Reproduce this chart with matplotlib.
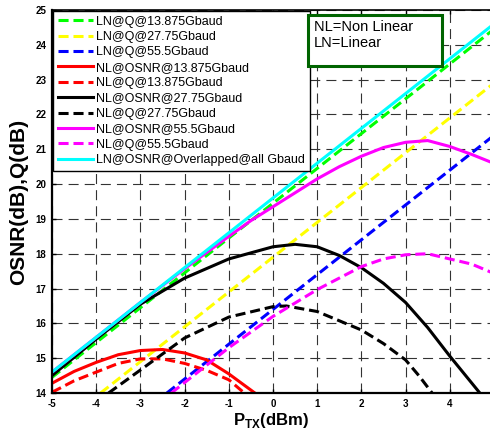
import matplotlib
matplotlib.use("Agg")
import matplotlib.pyplot as plt
from matplotlib.patches import Rectangle

plt.rcParams['font.family'] = ['Liberation Sans', 'DejaVu Sans']
plt.rcParams['mathtext.fontset'] = 'custom'
plt.rcParams['mathtext.rm'] = 'Liberation Sans'
plt.rcParams['mathtext.bf'] = 'Liberation Sans:bold'

# ---- data ----
x_lin = [-5, -4, -3, -2, -1, 0, 1, 2, 3, 4, 5]
ln_osnr_all = [14.6, 15.6, 16.6, 17.6, 18.6, 19.6, 20.6, 21.6, 22.6, 23.6, 24.6]
ln_q_13 = [14.45, 15.45, 16.45, 17.45, 18.45, 19.45, 20.45, 21.45, 22.45, 23.45, 24.45]

x_ln_q_27 = [-3.9, -3, -2, -1, 0, 1, 2, 3, 4, 5]
ln_q_27 = [14.0, 14.9, 15.9, 16.9, 17.9, 18.9, 19.9, 20.9, 21.9, 22.9]

x_ln_q_55 = [-2.4, -2, -1, 0, 1, 2, 3, 4, 5]
ln_q_55 = [14.0, 14.4, 15.4, 16.4, 17.4, 18.4, 19.4, 20.4, 21.4]

x_nl_osnr_13 = [-5, -4.5, -4, -3.5, -3, -2.5, -2, -1.5, -1, -0.41]
nl_osnr_13 = [14.28, 14.62, 14.88, 15.1, 15.22, 15.25, 15.15, 14.95, 14.55, 14.0]

x_nl_q_13 = [-5, -4.5, -4, -3.5, -3, -2.5, -2, -1.5, -1, -0.65]
nl_q_13 = [14.02, 14.35, 14.6, 14.85, 14.98, 14.98, 14.85, 14.65, 14.38, 14.0]

x_nl_osnr_27 = [-5, -4, -3, -2, -1, 0, 0.5, 1, 1.5, 2, 2.5, 3, 3.5, 4, 4.68]
nl_osnr_27 = [14.5, 15.55, 16.55, 17.3, 17.85, 18.2, 18.27, 18.2, 17.95, 17.6, 17.15, 16.6, 15.88, 15.06, 14.0]

x_nl_q_27 = [-3.72, -3, -2, -1, 0, 0.3, 1, 2, 2.5, 3, 3.3, 3.6]
nl_q_27 = [14.0, 14.66, 15.58, 16.18, 16.48, 16.5, 16.34, 15.81, 15.42, 14.95, 14.5, 14.0]

x_nl_osnr_55 = [-5, -4, -3, -2, -1, -0.5, 0, 0.5, 1, 1.5, 2, 2.5, 3, 3.5, 4, 4.5, 4.95]
nl_osnr_55 = [14.6, 15.6, 16.6, 17.57, 18.5, 18.95, 19.35, 19.75, 20.15, 20.5, 20.8, 21.05, 21.2, 21.25, 21.08, 20.85, 20.62]

x_nl_q_55 = [-2.3, -2, -1, 0, 1, 2, 2.5, 3, 3.5, 4, 4.5, 4.95]
nl_q_55 = [14.0, 14.3, 15.3, 16.2, 16.97, 17.63, 17.85, 17.97, 18.0, 17.85, 17.7, 17.46]

x_ticks = [-5, -4, -3, -2, -1, 0, 1, 2, 3, 4]
y_ticks = [14, 15, 16, 17, 18, 19, 20, 21, 22, 23, 24, 25]

labels = ['LN@Q@13.875Gbaud', 'LN@Q@27.75Gbaud', 'LN@Q@55.5Gbaud',
          'NL@OSNR@13.875Gbaud', 'NL@Q@13.875Gbaud', 'NL@OSNR@27.75Gbaud',
          'NL@Q@27.75Gbaud', 'NL@OSNR@55.5Gbaud', 'NL@Q@55.5Gbaud',
          'LN@OSNR@Overlapped@all Gbaud']

# ---- figure ----
fig = plt.figure(figsize=(4.9, 4.32), dpi=100)
ax = fig.add_axes([52/490, 1-393/432, 438/490, 383/432])

LW = 2.2
DASH = (0, (3.3, 1.6))
series = [
    (x_lin, ln_q_13, '#00ff00', DASH),
    (x_ln_q_27, ln_q_27, '#ffff00', DASH),
    (x_ln_q_55, ln_q_55, '#0000ff', DASH),
    (x_nl_osnr_13, nl_osnr_13, '#ff0000', '-'),
    (x_nl_q_13, nl_q_13, '#ff0000', DASH),
    (x_nl_osnr_27, nl_osnr_27, '#000000', '-'),
    (x_nl_q_27, nl_q_27, '#000000', DASH),
    (x_nl_osnr_55, nl_osnr_55, '#ff00ff', '-'),
    (x_nl_q_55, nl_q_55, '#ff00ff', DASH),
    (x_lin, ln_osnr_all, '#00ffff', '-'),
]
for (xs, ys, c, ls), lab in zip(series, labels):
    ax.plot(xs, ys, color=c, linestyle=ls, linewidth=LW, label=lab)

ax.set_xlim(-5, 4.91)
ax.set_ylim(14, 25)
ax.set_xticks(x_ticks)
ax.set_yticks(y_ticks)
ax.set_xticklabels([str(v) for v in x_ticks], fontsize=7, fontweight='bold')
ax.set_yticklabels([str(v) for v in y_ticks], fontsize=7, fontweight='bold')
ax.tick_params(direction='in', length=3, width=1, pad=4, top=True)

ax.grid(True, color='0.2', linestyle=(0, (9, 5.5)), linewidth=0.8)
ax.set_axisbelow(True)

ax.spines['right'].set_visible(False)
for s in ['left', 'bottom']:
    ax.spines[s].set_linewidth(1.6)
ax.spines['top'].set_linewidth(1.2)

ax.set_xlabel(r'P$_{\mathbf{TX}}$(dBm)', fontsize=12, fontweight='bold', labelpad=2)
ax.set_ylabel('OSNR(dB),Q(dB)', fontsize=15, fontweight='bold', labelpad=5)

leg = ax.legend(loc='upper left', bbox_to_anchor=(0, 1), borderaxespad=0.05,
                fontsize=9, frameon=True, fancybox=False, framealpha=1,
                edgecolor='black', handlelength=2.8, handletextpad=0.3,
                labelspacing=0.27, borderpad=0.4)
leg.get_frame().set_linewidth(1.0)

# annotation box
ax.add_patch(Rectangle(((308-52)/438, (393-66)/383), 134/438, 51/383,
                       transform=ax.transAxes, facecolor='white',
                       edgecolor='#006400', linewidth=2.2, zorder=10))
ax.text((314-52)/438, (393-20)/383, 'NL=Non Linear\nLN=Linear',
        transform=ax.transAxes, fontsize=10.5, va='top', ha='left',
        linespacing=1.15, zorder=11)

fig.savefig('out.png', dpi=100)
